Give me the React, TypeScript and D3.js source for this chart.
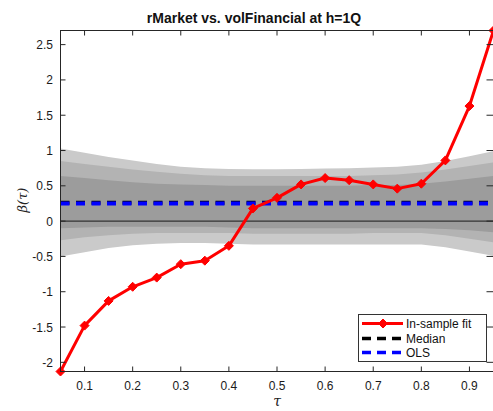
import React from "react";
import * as d3 from "d3";

// Quantile grid and in-sample coefficient estimates
const tau = [0.05, 0.1, 0.15, 0.2, 0.25, 0.3, 0.35, 0.4, 0.45, 0.5, 0.55, 0.6, 0.65, 0.7, 0.75, 0.8, 0.85, 0.9, 0.95];
const inSample = [-2.13, -1.48, -1.13, -0.93, -0.8, -0.61, -0.56, -0.35, 0.18, 0.33, 0.52, 0.61, 0.58, 0.52, 0.46, 0.53, 0.86, 1.63, 2.7];

// Confidence bands (outer, middle, inner)
const outerHi = [1.03, 0.97, 0.91, 0.86, 0.81, 0.77, 0.75, 0.74, 0.735, 0.735, 0.74, 0.745, 0.75, 0.76, 0.77, 0.8, 0.85, 0.92, 0.99];
const midHi = [0.85, 0.81, 0.77, 0.73, 0.7, 0.67, 0.65, 0.64, 0.64, 0.64, 0.64, 0.64, 0.64, 0.65, 0.66, 0.69, 0.73, 0.78, 0.83];
const innerHi = [0.64, 0.61, 0.58, 0.55, 0.53, 0.52, 0.51, 0.5, 0.5, 0.5, 0.5, 0.5, 0.5, 0.51, 0.51, 0.53, 0.56, 0.6, 0.64];
const innerLo = [-0.1, -0.09, -0.08, -0.08, -0.08, -0.08, -0.08, -0.09, -0.1, -0.1, -0.1, -0.1, -0.1, -0.1, -0.1, -0.1, -0.11, -0.13, -0.16];
const midLo = [-0.27, -0.23, -0.2, -0.18, -0.17, -0.17, -0.17, -0.17, -0.18, -0.18, -0.18, -0.18, -0.18, -0.17, -0.17, -0.17, -0.2, -0.25, -0.3];
const outerLo = [-0.5, -0.44, -0.38, -0.34, -0.32, -0.31, -0.31, -0.32, -0.33, -0.33, -0.33, -0.33, -0.33, -0.33, -0.33, -0.33, -0.37, -0.43, -0.49];

const medianValue = 0.26;
const olsValue = 0.25;

const xTicks = [0.1, 0.2, 0.3, 0.4, 0.5, 0.6, 0.7, 0.8, 0.9];
const yTicks = [-2, -1.5, -1, -0.5, 0, 0.5, 1, 1.5, 2, 2.5];
const legendLabels = ["In-sample fit", "Median", "OLS"];

const W = 493;
const H = 411;
const left = 60.5;
const right = 493.5;
const top = 30.5;
const bottom = 371.5;

export default function App() {
  const x = d3.scaleLinear().domain([0.05, 0.95]).range([left, right]);
  const y = d3.scaleLinear().domain([-2.13, 2.7]).range([bottom, top]);

  const band = (lo: number[], hi: number[]) =>
    d3
      .area<number>()
      .x((_, i) => x(tau[i]))
      .y0((_, i) => y(lo[i]))
      .y1((_, i) => y(hi[i]))(tau) as string;

  const line = d3
    .line<number>()
    .x((_, i) => x(tau[i]))
    .y((d) => y(d))(inSample) as string;

  const diamond = (cx: number, cy: number, r = 4.5) =>
    `M${cx},${cy - r}L${cx + r},${cy}L${cx},${cy + r}L${cx - r},${cy}Z`;

  const font = "'Liberation Sans', Arial, Helvetica, sans-serif";
  const axisColor = "#262626";
  const tickLen = 5;

  const lgX = 358.5;
  const lgY = 314.5;
  const lgRows = [323.5, 338.5, 352.5];

  return (
    <svg
      width={W}
      height={H}
      style={{ position: "absolute", left: 0, top: 0, background: "#fff" }}
      fontFamily={font}
    >
      {/* bands */}
      <path d={band(outerLo, outerHi)} fill="#cacaca" />
      <path d={band(midLo, midHi)} fill="#b3b3b3" />
      <path d={band(innerLo, innerHi)} fill="#9c9c9c" />

      {/* zero line */}
      <line x1={left} x2={right} y1={y(0)} y2={y(0)} stroke="#333" strokeWidth={1.2} />

      {/* median and OLS */}
      <line x1={left} x2={right} y1={y(medianValue)} y2={y(medianValue)} stroke="#000" strokeWidth={4} strokeDasharray="9 6.5" />
      <line x1={left} x2={right} y1={y(olsValue)} y2={y(olsValue)} stroke="#0000ff" strokeWidth={4} strokeDasharray="9 6.5" />

      {/* in-sample fit */}
      <path d={line} fill="none" stroke="#ff0000" strokeWidth={3} strokeLinejoin="round" />
      {inSample.map((v, i) => (
        <path key={i} d={diamond(x(tau[i]), y(v))} fill="#ff0000" stroke="#ff0000" strokeWidth={1} />
      ))}

      {/* frame */}
      <rect x={left} y={top} width={right - left} height={bottom - top} fill="none" stroke={axisColor} strokeWidth={1} />

      {/* x ticks */}
      {xTicks.map((t) => (
        <g key={"x" + t}>
          <line x1={x(t)} x2={x(t)} y1={bottom} y2={bottom - tickLen} stroke={axisColor} />
          <line x1={x(t)} x2={x(t)} y1={top} y2={top + tickLen} stroke={axisColor} />
          <text x={x(t)} y={389.5} textAnchor="middle" fontSize={12} fill="#1a1a1a">
            {t.toString()}
          </text>
        </g>
      ))}

      {/* y ticks */}
      {yTicks.map((t) => (
        <g key={"y" + t}>
          <line x1={left} x2={left + tickLen} y1={y(t)} y2={y(t)} stroke={axisColor} />
          <line x1={right - tickLen - 2} x2={right} y1={y(t)} y2={y(t)} stroke={axisColor} />
          <text x={53} y={y(t) + 4.5} textAnchor="end" fontSize={12} fill="#1a1a1a">
            {t.toString()}
          </text>
        </g>
      ))}

      {/* title and axis labels */}
      <text x={254} y={23} textAnchor="middle" fontSize={14} fontWeight="bold" fill="#111">
        rMarket vs. volFinancial at h=1Q
      </text>
      <text x={277} y={406} textAnchor="middle" fontSize={14} fontStyle="italic" fontFamily="'DejaVu Serif', serif" fill="#222">
        τ
      </text>
      <text
        transform={`translate(27,200) rotate(-90)`}
        textAnchor="middle"
        fontSize={13}
        fontStyle="italic"
        fontFamily="'DejaVu Serif', serif"
        fill="#222"
      >
        β(τ)
      </text>

      {/* legend */}
      <rect x={lgX} y={lgY} width={128} height={47} fill="#fff" stroke="#333" strokeWidth={1} />
      <line x1={362} x2={403} y1={lgRows[0]} y2={lgRows[0]} stroke="#ff0000" strokeWidth={3} />
      <path d={diamond(383, lgRows[0])} fill="#ff0000" stroke="#ff0000" />
      <line x1={362} x2={403} y1={lgRows[1]} y2={lgRows[1]} stroke="#000" strokeWidth={3.5} strokeDasharray="9 6" />
      <line x1={362} x2={403} y1={lgRows[2]} y2={lgRows[2]} stroke="#0000ff" strokeWidth={3.5} strokeDasharray="9 6" />
      {legendLabels.map((l, i) => (
        <text key={l} x={406} y={lgRows[i] + 4.5} fontSize={12} fill="#111">
          {l}
        </text>
      ))}
    </svg>
  );
}
